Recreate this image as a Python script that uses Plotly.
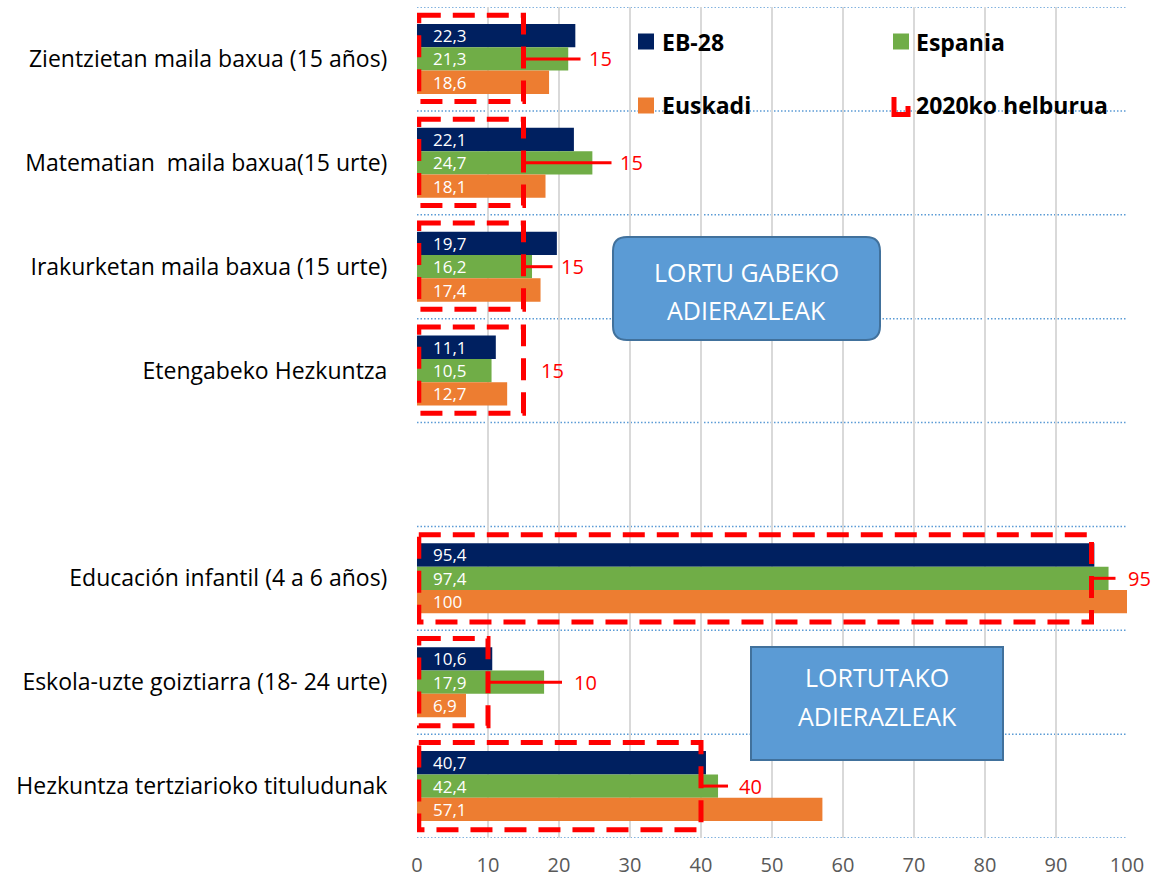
import plotly.graph_objects as go

# ---------------- data ----------------
categories = [
    "Zientzietan maila baxua (15 años)",
    "Matematian\u00a0 maila baxua(15 urte)",
    "Irakurketan maila baxua (15 urte)",
    "Etengabeko Hezkuntza",
    "",
    "Educación infantil (4 a 6 años)",
    "Eskola-uzte goiztiarra (18- 24 urte)",
    "Hezkuntza tertziarioko tituludunak",
]
eb28 = [22.3, 22.1, 19.7, 11.1, None, 95.4, 10.6, 40.7]
espania = [21.3, 24.7, 16.2, 10.5, None, 97.4, 17.9, 42.4]
euskadi = [18.6, 18.1, 17.4, 12.7, None, 100, 6.9, 57.1]
target_2020 = [15, 15, 15, 15, None, 95, 10, 40]
x_ticks = [0, 10, 20, 30, 40, 50, 60, 70, 80, 90, 100]
series_names = ["EB-28", "Espania", "Euskadi", "2020ko helburua"]
box_texts = [["LORTU GABEKO", "ADIERAZLEAK"], ["LORTUTAKO", "ADIERAZLEAK"]]

# ---------------- style / layout ----------------
W, H = 1152, 879
ML, MR, MT, MB = 417, 25, 7, 41
PW, PH = W - ML - MR, H - MT - MB
XPX = PW / 100.0
colors = ["#002060", "#70ad47", "#ed7d31"]
FONT = "'Open Sans', Lato, sans-serif"
RED = "#ff0000"
# leader-line length and label offset (pixels) for each target label
leader_len = [57, 88, 29, 0, None, 24, 74, 27]
label_off = [77, 108, 49, 29, None, 48, 97, 49]

def fx(px):
    return (px - ML) / PW

def fy(py):
    return (MT + PH - py) / PH

def fmt(v):
    return ("%g" % v).replace(".", ",")

BW = 0.225
offsets = [-1.5 * BW, -0.5 * BW, 0.5 * BW]

fig = go.Figure()
ypos = list(range(len(categories)))
for vals, name, col, off in zip([eb28, espania, euskadi], series_names[:3], colors, offsets):
    fig.add_trace(go.Bar(
        x=vals, y=ypos, orientation="h", name=name,
        marker=dict(color=col, line=dict(width=0)),
        width=BW, offset=off, showlegend=False, hoverinfo="skip",
    ))

shapes = []
annotations = []

# row separators (dotted)
for i in range(len(categories) + 1):
    shapes.append(dict(type="line", xref="paper", yref="y", x0=0, x1=1,
                       y0=i - 0.5, y1=i - 0.5, layer="below",
                       line=dict(color="#5b9bd5", width=1.5, dash="1.5px,2px")))

# value labels inside bars
for vals, off in zip([eb28, espania, euskadi], offsets):
    for i, v in enumerate(vals):
        if v is None:
            continue
        annotations.append(dict(x=0, y=i + off + BW / 2, xref="x", yref="y",
                                text=fmt(v), showarrow=False, xanchor="left",
                                yanchor="middle", xshift=15, borderpad=0,
                                font=dict(family=FONT, size=17, color="white")))

# target boxes, leader lines, labels
for i, t in enumerate(target_2020):
    if t is None:
        continue
    y1 = 0.41 if i < 5 else 0.42
    shapes.append(dict(type="rect", xref="x", yref="y", x0=0.25, x1=t,
                       y0=i - 0.42, y1=i + y1, layer="above",
                       line=dict(color=RED, width=5, dash="22px,12px")))
    if leader_len[i]:
        shapes.append(dict(type="line", xref="x", yref="y", x0=t,
                           x1=t + leader_len[i] / XPX, y0=i, y1=i, layer="above",
                           line=dict(color=RED, width=3)))
    annotations.append(dict(x=t, y=i, xref="x", yref="y", text=fmt(t),
                            showarrow=False, xanchor="center", yanchor="middle",
                            xshift=label_off[i],
                            font=dict(family=FONT, size=20, color=RED)))

# legend (manual)
leg = [(646, 41.5, 660), (901, 41.5, 914), (646, 105.5, 660), (901, 105.5, 914)]
for k, (cx, cy, tx) in enumerate(leg):
    if k < 3:
        shapes.append(dict(type="rect", xref="paper", yref="paper",
                           x0=fx(cx - 8), x1=fx(cx + 8), y0=fy(cy + 8), y1=fy(cy - 8),
                           fillcolor=colors[k], line=dict(width=0), layer="above"))
    else:
        path = "M %f,%f L %f,%f L %f,%f L %f,%f" % (
            fx(894), fy(97), fx(894), fy(114.5), fx(908), fy(114.5), fx(908), fy(106))
        shapes.append(dict(type="path", xref="paper", yref="paper", path=path,
                           line=dict(color=RED, width=5), layer="above"))
    annotations.append(dict(x=fx(tx), y=fy(cy), xref="paper", yref="paper",
                            text="<b>%s</b>" % series_names[k], showarrow=False,
                            xanchor="left", yanchor="middle",
                            font=dict(family=FONT, size=23, color="#000000")))

# text boxes
def rounded_rect(x0, y0, x1, y1, r):
    return ("M %f,%f L %f,%f Q %f,%f %f,%f L %f,%f Q %f,%f %f,%f "
            "L %f,%f Q %f,%f %f,%f L %f,%f Q %f,%f %f,%f Z") % (
        fx(x0 + r), fy(y0), fx(x1 - r), fy(y0), fx(x1), fy(y0), fx(x1), fy(y0 + r),
        fx(x1), fy(y1 - r), fx(x1), fy(y1), fx(x1 - r), fy(y1),
        fx(x0 + r), fy(y1), fx(x0), fy(y1), fx(x0), fy(y1 - r),
        fx(x0), fy(y0 + r), fx(x0), fy(y0), fx(x0 + r), fy(y0))

shapes.append(dict(type="path", xref="paper", yref="paper",
                   path=rounded_rect(613, 237, 880, 340, 14),
                   fillcolor="#5b9bd5", line=dict(color="#41719c", width=2), layer="above"))
shapes.append(dict(type="rect", xref="paper", yref="paper",
                   x0=fx(751), x1=fx(1003), y0=fy(760), y1=fy(647),
                   fillcolor="#5b9bd5", line=dict(color="#41719c", width=2), layer="above"))
for (cx, ys), lines in zip([(746.5, (272, 310)), (877, (677, 716))], box_texts):
    for yy, txt in zip(ys, lines):
        annotations.append(dict(x=fx(cx), y=fy(yy), xref="paper", yref="paper",
                                text=txt, showarrow=False, xanchor="center",
                                yanchor="middle",
                                font=dict(family=FONT, size=25, color="white")))

fig.update_layout(
    width=W, height=H,
    margin=dict(l=ML, r=MR, t=MT, b=MB, pad=0, autoexpand=False),
    paper_bgcolor="white", plot_bgcolor="white",
    barmode="overlay",
    showlegend=False,
    shapes=shapes,
    annotations=annotations,
    xaxis=dict(range=[0, 100], tickvals=x_ticks, ticktext=[str(v) for v in x_ticks],
               showgrid=True, gridcolor="#d9d9d9", gridwidth=1.5, automargin=False,
               zeroline=False, showline=False, ticks="outside", ticklen=9,
               tickcolor="rgba(0,0,0,0)",
               tickfont=dict(family=FONT, size=20, color="#595959"), fixedrange=True),
    yaxis=dict(range=[len(categories) - 0.5, -0.5], tickvals=ypos, ticktext=categories,
               showgrid=False, zeroline=False, showline=False, ticks="outside",
               ticklen=24, tickcolor="rgba(0,0,0,0)", automargin=False,
               tickfont=dict(family=FONT, size=23, color="#000000"), fixedrange=True),
)

fig.write_html("out.html", config={"displayModeBar": False},
               post_script="document.body.style.margin='0';")
